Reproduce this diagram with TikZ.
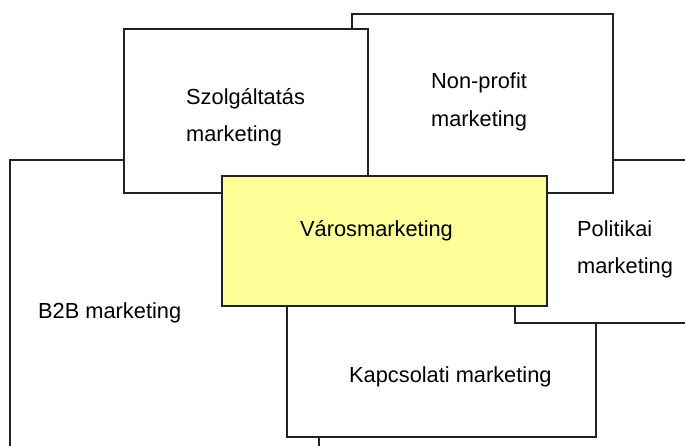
\documentclass[tikz,border=0pt]{standalone}
\usepackage{fontspec}
\setmainfont{Liberation Sans}
\definecolor{lineC}{HTML}{222222}
\definecolor{yel}{HTML}{FFFF99}
\begin{document}
\begin{tikzpicture}[x=1pt,y=-1pt,
  box/.style={draw=lineC, line width=1.4pt, fill=white, rectangle, inner sep=0pt, outer sep=0pt},
  lbl/.style={inner sep=0pt, font=\fontsize{21.8}{26}\selectfont, text=black, anchor=base west}]
\useasboundingbox (0,0) rectangle (685,446);
\clip (0,0) rectangle (685,446);
% boxes, back to front
\node[box, minimum width=309pt, minimum height=320pt] (b2b) at (164.5,320) {};
\node[box, minimum width=309pt, minimum height=147pt] (kapcs) at (441.5,363.5) {};
\node[box, minimum width=225pt, minimum height=163pt] (polit) at (627.5,241.5) {};
\node[box, minimum width=261pt, minimum height=179pt] (nonprof) at (482.5,103.5) {};
\node[box, minimum width=244pt, minimum height=164pt] (szolg) at (246,111) {};
\node[box, fill=yel, minimum width=325pt, minimum height=130pt] (varos) at (384.5,241) {};
% labels
\node[lbl] (t-szolg1) at (186,105) {Szolgáltatás};
\node[lbl] (t-szolg2) at (186,142) {marketing};
\node[lbl] (t-np1) at (431,89) {Non-profit};
\node[lbl] (t-np2) at (431,127) {marketing};
\node[lbl] (t-varos) at (300,237) {Városmarketing};
\node[lbl] (t-pol1) at (577,237) {Politikai};
\node[lbl] (t-pol2) at (577,273) {marketing};
\node[lbl] (t-b2b) at (38,318) {B2B marketing};
\node[lbl] (t-kapcs) at (349,382) {Kapcsolati marketing};
\end{tikzpicture}
\end{document}
